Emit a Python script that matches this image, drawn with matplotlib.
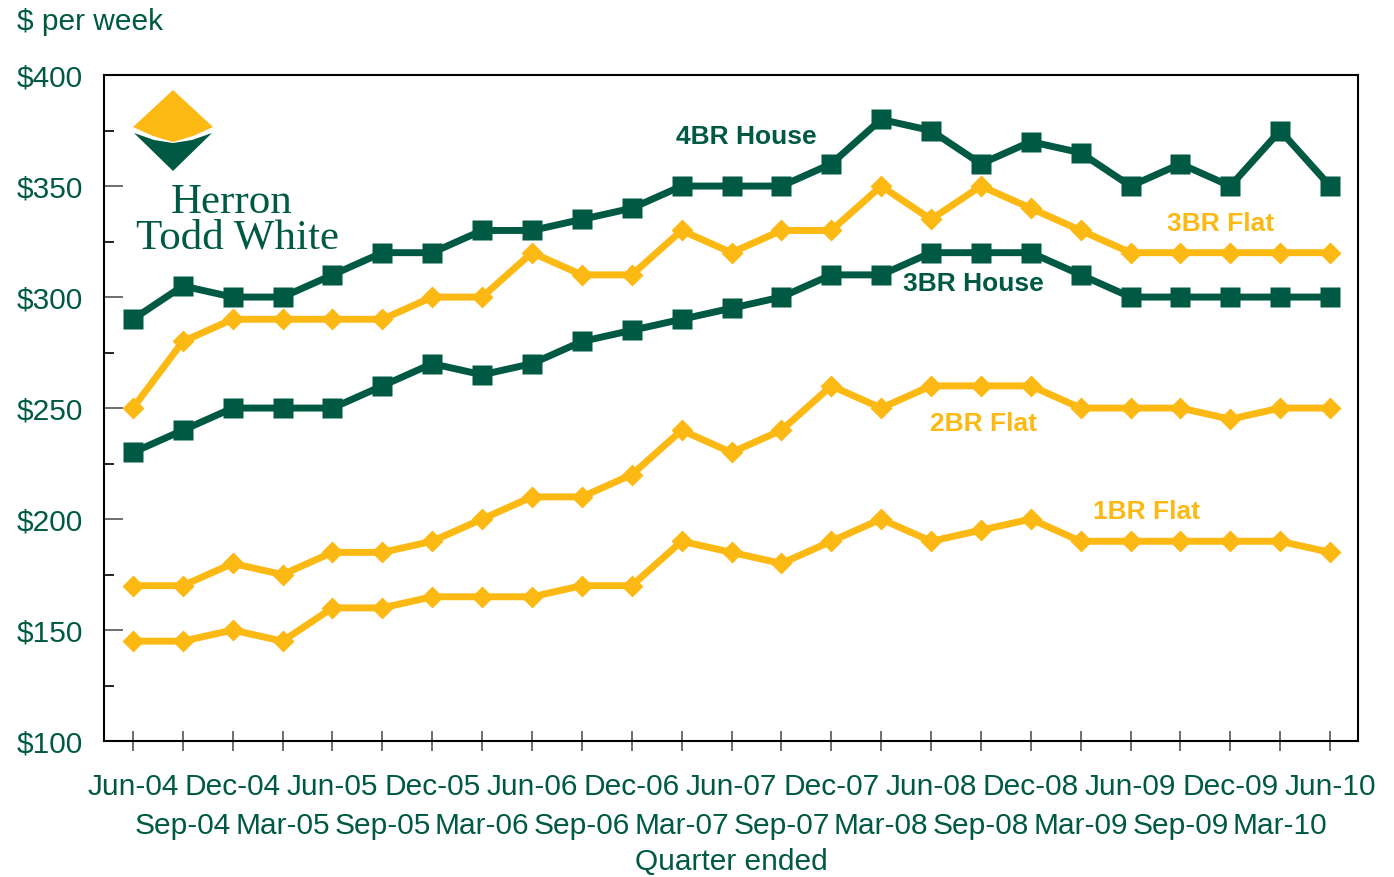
import matplotlib.pyplot as plt
from matplotlib.patches import Polygon
from matplotlib.ticker import FixedLocator

# quarters
quarters = ['Jun-04', 'Sep-04', 'Dec-04', 'Mar-05', 'Jun-05', 'Sep-05', 'Dec-05',
            'Mar-06', 'Jun-06', 'Sep-06', 'Dec-06', 'Mar-07', 'Jun-07', 'Sep-07',
            'Dec-07', 'Mar-08', 'Jun-08', 'Sep-08', 'Dec-08', 'Mar-09', 'Jun-09',
            'Sep-09', 'Dec-09', 'Mar-10', 'Jun-10']

# median weekly rents ($)
house_4br = [290, 305, 300, 300, 310, 320, 320, 330, 330, 335, 340, 350, 350, 350,
             360, 380, 375, 360, 370, 365, 350, 360, 350, 375, 350]
flat_3br = [250, 280, 290, 290, 290, 290, 300, 300, 320, 310, 310, 330, 320, 330,
            330, 350, 335, 350, 340, 330, 320, 320, 320, 320, 320]
house_3br = [230, 240, 250, 250, 250, 260, 270, 265, 270, 280, 285, 290, 295, 300,
             310, 310, 320, 320, 320, 310, 300, 300, 300, 300, 300]
flat_2br = [170, 170, 180, 175, 185, 185, 190, 200, 210, 210, 220, 240, 230, 240,
            260, 250, 260, 260, 260, 250, 250, 250, 245, 250, 250]
flat_1br = [145, 145, 150, 145, 160, 160, 165, 165, 165, 170, 170, 190, 185, 180,
            190, 200, 190, 195, 200, 190, 190, 190, 190, 190, 185]

y_major = [100, 150, 200, 250, 300, 350, 400]
y_minor = [125, 175, 225, 275, 325, 375]

green = '#005A43'
yellow = '#FDB913'

plt.rcParams['font.family'] = ['Liberation Sans', 'DejaVu Sans']

fig = plt.figure(figsize=(13.94, 8.77), dpi=100)
ax = fig.add_axes([0.0746, 0.155, 0.8996, 0.7594])

x = list(range(len(quarters)))
ax.plot(x, flat_1br, color=yellow, lw=5, marker='D', ms=11, mec='none', zorder=3)
ax.plot(x, flat_2br, color=yellow, lw=5, marker='D', ms=11, mec='none', zorder=3)
ax.plot(x, flat_3br, color=yellow, lw=5, marker='D', ms=11, mec='none', zorder=3)
ax.plot(x, house_3br, color=green, lw=5, marker='s', ms=14, mec='none', zorder=4)
ax.plot(x, house_4br, color=green, lw=5, marker='s', ms=14, mec='none', zorder=4)

# y axis
ax.set_yticks(y_major)
ax.set_yticklabels(['$%d' % v for v in y_major])
ax.yaxis.set_minor_locator(FixedLocator(y_minor))
ax.tick_params(axis='y', which='major', direction='in', length=14, width=1.2,
               color='#555555', pad=15, labelsize=21.5, labelcolor=green)
ax.tick_params(axis='y', which='minor', direction='in', length=7, width=1.2,
               color='black')

# x axis: two staggered rows of labels
ax.set_xticks(x[0::2])
ax.set_xticklabels(quarters[0::2])
ax.set_xticks(x[1::2], minor=True)
ax.set_xticklabels(quarters[1::2], minor=True)
ax.tick_params(axis='x', which='both', direction='inout', length=14, width=1.2,
               color='#555555', labelsize=21.5, labelcolor=green)
ax.tick_params(axis='x', which='major', pad=16)
ax.tick_params(axis='x', which='minor', pad=44)

ax.set_xlim(-0.58, 24.56)
ax.set_ylim(100, 400)

for s in ax.spines.values():
    s.set_linewidth(1.5)
    s.set_color('black')

ax.text(12.29, 372, '4BR House', color=green, fontsize=19, fontweight='bold',
        ha='center', va='center')
ax.text(21.8, 333, '3BR Flat', color=yellow, fontsize=19, fontweight='bold',
        ha='center', va='center')
ax.text(16.84, 306, '3BR House', color=green, fontsize=19, fontweight='bold',
        ha='center', va='center')
ax.text(17.06, 243, '2BR Flat', color=yellow, fontsize=19, fontweight='bold',
        ha='center', va='center')
ax.text(20.31, 203, '1BR Flat', color=yellow, fontsize=19, fontweight='bold',
        ha='center', va='center')

fig.text(17 / 1394, 1 - 22 / 877, '$ per week', color=green, fontsize=21.5,
         ha='left', va='center')
fig.text(731 / 1394, 1 - 862 / 877, 'Quarter ended', color=green, fontsize=21.5,
         ha='center', va='center')

# logo overlay in pixel coordinates
lg = fig.add_axes([0, 0, 1, 1], zorder=5)
lg.set_xlim(0, 1394)
lg.set_ylim(877, 0)
lg.axis('off')
lg.patch.set_alpha(0)
yel_pts = [(133, 127), (173, 90), (213, 127), (193, 136), (173, 142), (153, 136)]
grn_pts = [(134, 133), (154, 140), (173, 143), (192, 140), (212, 133), (173, 171)]
lg.add_patch(Polygon(yel_pts, closed=True, color=yellow, lw=0))
lg.add_patch(Polygon(grn_pts, closed=True, color=green, lw=0))
lg.text(232, 203, 'Herron', family='Liberation Serif', fontsize=31, color=green,
        ha='center', va='center')
lg.text(238, 238, 'Todd White', family='Liberation Serif', fontsize=31, color=green,
        ha='center', va='center')

plt.savefig('out.png', dpi=100)
